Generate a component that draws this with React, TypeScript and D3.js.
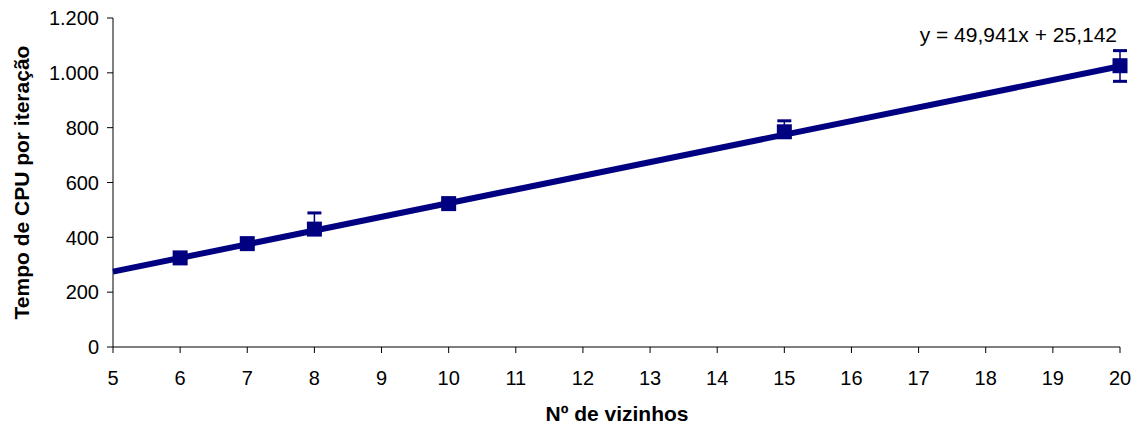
import React from "react";
import * as d3 from "d3";

const xValues = [6, 7, 8, 10, 15, 20];
const yValues = [325, 377, 430, 523, 785, 1026];
const errPlus = [8, 8, 59, 8, 40, 55];
const errMinus = [8, 8, 8, 8, 20, 57];
const xTicks = [5, 6, 7, 8, 9, 10, 11, 12, 13, 14, 15, 16, 17, 18, 19, 20];
const yTicks = [0, 200, 400, 600, 800, 1000, 1200];
const slope = 49.941;
const intercept = 25.142;
const equationLabel = "y = 49,941x + 25,142";
const xTitle = "Nº de vizinhos";
const yTitle = "Tempo de CPU por iteração";

const W = 1139;
const H = 429;
const NAVY = "#000080";

export default function App() {
  const x = d3.scaleLinear().domain([5, 20]).range([113, 1120]);
  const y = d3.scaleLinear().domain([0, 1200]).range([347, 18]);
  const fmt = (v: number) => d3.format(",")(v).replace(/,/g, ".");
  const trend = d3
    .line<number>()
    .x((d) => x(d))
    .y((d) => y(slope * d + intercept));
  const font = "Arial, 'Liberation Sans', sans-serif";
  const m = 7.5;
  return (
    <svg
      width={W}
      height={H}
      style={{ position: "absolute", left: 0, top: 0, background: "#fff" }}
      fontFamily={font}
    >
      <line x1={113} x2={113} y1={y(1200)} y2={y(0)} stroke="#000" strokeWidth={1} />
      <line x1={113} x2={x(20)} y1={y(0)} y2={y(0)} stroke="#000" strokeWidth={1} />
      {yTicks.map((t) => (
        <g key={"y" + t}>
          <line x1={107} x2={113} y1={y(t)} y2={y(t)} stroke="#000" />
          <text x={99} y={y(t)} dy="0.36em" textAnchor="end" fontSize={20} fill="#000">
            {fmt(t)}
          </text>
        </g>
      ))}
      {xTicks.map((t) => (
        <g key={"x" + t}>
          <line x1={x(t)} x2={x(t)} y1={y(0)} y2={y(0) + 6} stroke="#000" />
          <text x={x(t)} y={385} textAnchor="middle" fontSize={20} fill="#000">
            {t}
          </text>
        </g>
      ))}
      <path d={trend([5, 20]) || ""} stroke={NAVY} strokeWidth={6} fill="none" />
      {xValues.map((xv, i) => {
        const cx = x(xv);
        const top = y(yValues[i] + errPlus[i]);
        const bot = y(yValues[i] - errMinus[i]);
        return (
          <g key={"e" + i}>
            <line x1={cx} x2={cx} y1={top} y2={bot} stroke={NAVY} strokeWidth={1.5} />
            <rect x={cx - 7} y={top - 1.5} width={14} height={3} fill={NAVY} />
            <rect x={cx - 7} y={bot - 1.5} width={14} height={3} fill={NAVY} />
          </g>
        );
      })}
      {xValues.map((xv, i) => (
        <rect
          key={"m" + i}
          x={x(xv) - m}
          y={y(yValues[i]) - m}
          width={2 * m}
          height={2 * m}
          fill={NAVY}
        />
      ))}
      <text x={1117} y={42} textAnchor="end" fontSize={21} fill="#000">
        {equationLabel}
      </text>
      <text x={617} y={421} textAnchor="middle" fontSize={21} fontWeight="bold" fill="#000">
        {xTitle}
      </text>
      <text
        transform={`translate(29,${(18 + 347) / 2}) rotate(-90)`}
        textAnchor="middle"
        fontSize={21}
        fontWeight="bold"
        fill="#000"
      >
        {yTitle}
      </text>
    </svg>
  );
}
